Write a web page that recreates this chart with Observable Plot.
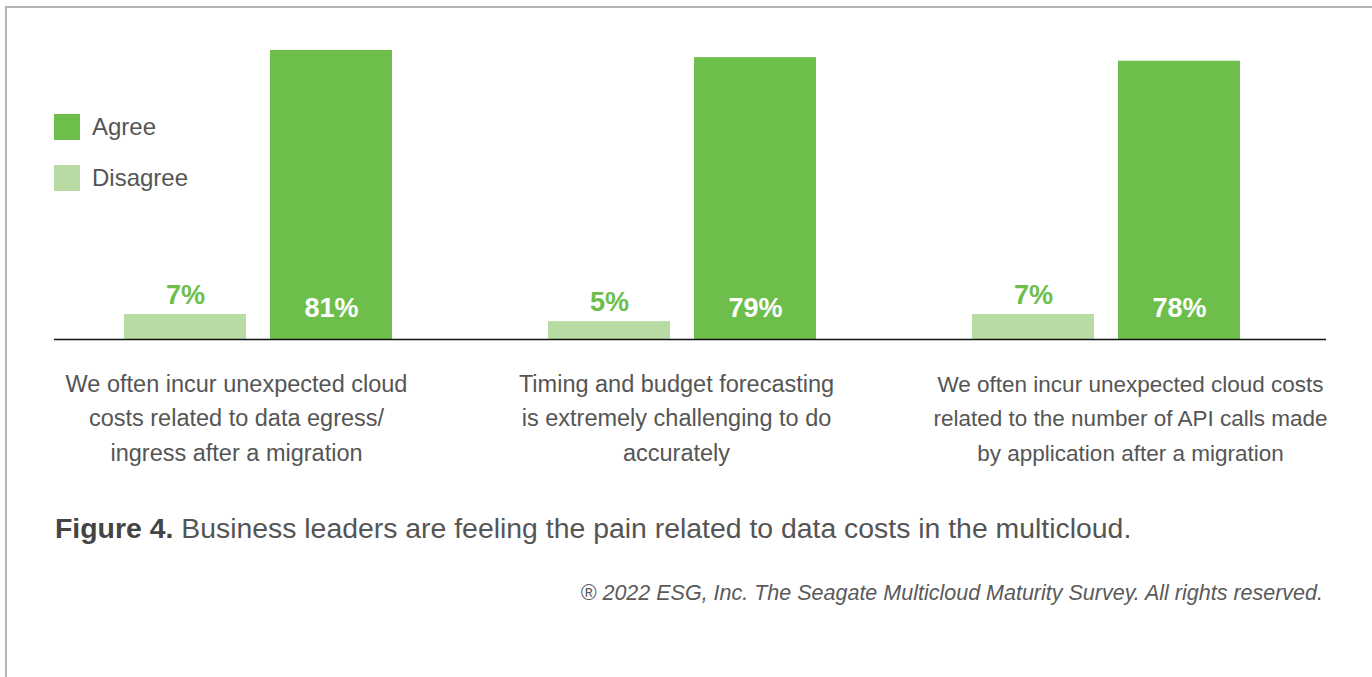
<!DOCTYPE html>
<html>
<head>
<meta charset="utf-8">
<script src="https://cdn.jsdelivr.net/npm/d3@7"></script>
<script src="https://cdn.jsdelivr.net/npm/@observablehq/plot@0.6"></script>
<style>
  html, body { margin: 0; padding: 0; background: #fff; overflow: hidden; }
  body { width: 1372px; height: 677px; position: relative; font-family: "Liberation Sans", Arial, Helvetica, sans-serif; }
  #frame { position: absolute; left: 5px; top: 6px; width: 1367px; height: 671px; border-top: 2px solid #b5b5b5; border-left: 2px solid #b5b5b5; box-sizing: border-box; }
  #chart { position: absolute; left: 0; top: 0; }
  .legend { position: absolute; left: 54px; display: flex; align-items: center; height: 26px; }
  .legend .sw { width: 26px; height: 26px; margin-right: 12px; }
  .legend .lb { font-size: 24px; line-height: 26px; color: #555; }
  #caption { position: absolute; left: 55px; top: 512px; font-size: 28.4px; line-height: 32px; color: #555; white-space: nowrap; }
  #caption b { color: #444; }
  #credit { position: absolute; right: 49px; top: 580px; font-size: 21.5px; line-height: 26px; font-style: italic; color: #5a5a5a; white-space: nowrap; }
</style>
</head>
<body>
<div id="frame"></div>
<div id="chart"></div>
<div id="legend"></div>
<div id="caption"></div>
<div id="credit"></div>
<script>
// ---- data ----
const categories = [
  "We often incur unexpected cloud\ncosts related to data egress/\ningress after a migration",
  "Timing and budget forecasting\nis extremely challenging to do\naccurately",
  "We often incur unexpected cloud costs\nrelated to the number of API calls made\nby application after a migration"
];
const seriesNames = ["Disagree", "Agree"];
const disagreeValues = [7, 5, 7];
const agreeValues = [81, 79, 78];
const seriesColors = ["#b7dba3", "#6dbe4b"];
const captionBold = "Figure 4.";
const captionText = " Business leaders are feeling the pain related to data costs in the multicloud.";
const creditText = "® 2022 ESG, Inc. The Seagate Multicloud Maturity Survey. All rights reserved.";

// ---- table ----
const rows = [];
categories.forEach((c, i) => {
  rows.push({category: c, series: "Disagree", value: disagreeValues[i]});
  rows.push({category: c, series: "Agree", value: agreeValues[i]});
});

// small horizontal nudges of the category labels (layout only)
const labelShift = [-30, -14, 16];
const labelSize = [23.5, 23.5, 22.5];

const chart = Plot.plot({
  width: 1372,
  height: 480,
  marginTop: 50,
  marginBottom: 141,
  marginLeft: 54,
  marginRight: 46,
  style: {fontFamily: "'Liberation Sans', Arial, Helvetica, sans-serif", background: "transparent"},
  fx: {domain: categories, paddingInner: 0, paddingOuter: 0, label: null, axis: null},
  x: {domain: seriesNames, paddingInner: 0.1644, paddingOuter: 0.534, align: 0.45, axis: null},
  y: {domain: [0, 81], axis: null},
  color: {domain: seriesNames, range: seriesColors},
  marks: [
    Plot.barY(rows, {fx: "category", x: "series", y: "value", fill: "series"}),
    Plot.ruleY([0], {stroke: "#111", strokeWidth: 1.5}),
    Plot.text(rows.filter(d => d.series === "Agree"), {
      fx: "category", x: "series", y: 0, text: d => d.value + "%",
      fill: "white", fontWeight: "bold", fontSize: 27, lineAnchor: "bottom", dy: -23
    }),
    Plot.text(rows.filter(d => d.series === "Disagree"), {
      fx: "category", x: "series", y: "value", text: d => d.value + "%",
      fill: seriesColors[1], fontWeight: "bold", fontSize: 27, lineAnchor: "bottom", dy: -11
    }),
    ...categories.map((c, i) => Plot.text([c], {
      fx: d => d, text: d => d, frameAnchor: "bottom", lineAnchor: "top",
      dy: 28, dx: labelShift[i], fontSize: labelSize[i], lineHeight: 34.5 / labelSize[i], fill: "#555"
    }))
  ]
});
document.getElementById("chart").appendChild(chart);

// ---- legend ----
const legend = document.getElementById("legend");
[["Agree", seriesColors[1], 114], ["Disagree", seriesColors[0], 165]].forEach(([name, col, top]) => {
  const row = document.createElement("div");
  row.className = "legend";
  row.style.top = top + "px";
  const sw = document.createElement("div");
  sw.className = "sw";
  sw.style.background = col;
  const lb = document.createElement("div");
  lb.className = "lb";
  lb.textContent = name;
  row.appendChild(sw);
  row.appendChild(lb);
  legend.appendChild(row);
});

// ---- caption ----
const cap = document.getElementById("caption");
const b = document.createElement("b");
b.textContent = captionBold;
cap.appendChild(b);
cap.appendChild(document.createTextNode(captionText));
document.getElementById("credit").textContent = creditText;
</script>
</body>
</html>
